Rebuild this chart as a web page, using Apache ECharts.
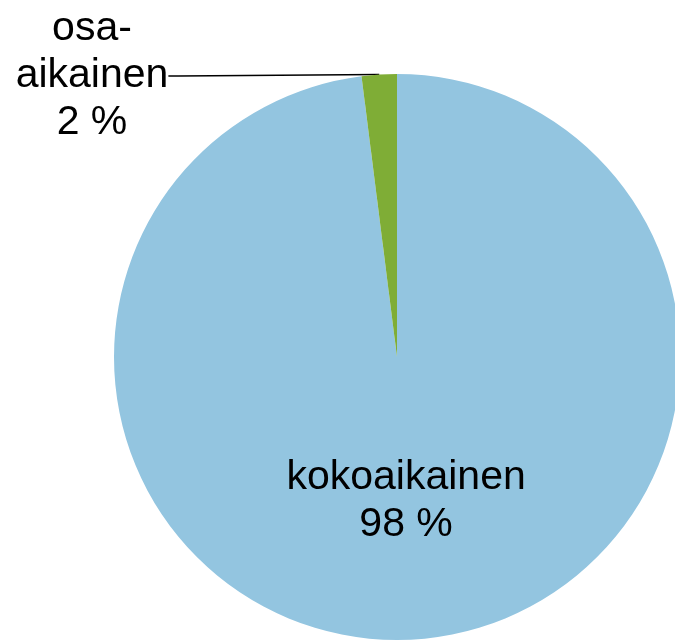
<!DOCTYPE html>
<html>
<head>
<meta charset="utf-8">
<script src="https://cdn.jsdelivr.net/npm/echarts@6/dist/echarts.min.js"></script>
<style>
  html, body { margin: 0; padding: 0; background: #fff; }
  #main { width: 675px; height: 641px; }
</style>
</head>
<body>
<div id="main"></div>
<script>
const categories = ['kokoaikainen', 'osa-aikainen'];
const labelNames = ['kokoaikainen', 'osa-\naikainen'];
const values = [98, 2];
const colors = ['#93C5E0', '#7FAD36'];

const chart = echarts.init(document.getElementById('main'));

const data = categories.map((name, i) => ({
  name: name,
  value: values[i],
  itemStyle: { color: colors[i] },
  label: i === 0 ? { position: 'inside' } : { position: 'outside' }
}));

chart.setOption({
  animation: false,
  series: [{
    type: 'pie',
    center: [397, 357],
    radius: 283,
    startAngle: 90,
    clockwise: true,
    data: data,
    label: {
      show: true,
      color: '#000',
      fontFamily: 'Liberation Sans, Arial, sans-serif',
      fontSize: 41,
      lineHeight: 47,
      align: 'center',
      formatter: (p) => labelNames[p.dataIndex] + '\n' + p.value + ' %'
    },
    labelLine: {
      show: true,
      length: 5,
      length2: 10,
      lineStyle: { color: '#000', width: 1.5 }
    },
    labelLayout: (params) => {
      if (params.dataIndex === 1) {
        return { x: 92, y: 76, align: 'center', verticalAlign: 'middle' };
      }
      return {};
    }
  }]
});

window.addEventListener('resize', () => {
  chart.resize();
});
</script>
</body>
</html>
